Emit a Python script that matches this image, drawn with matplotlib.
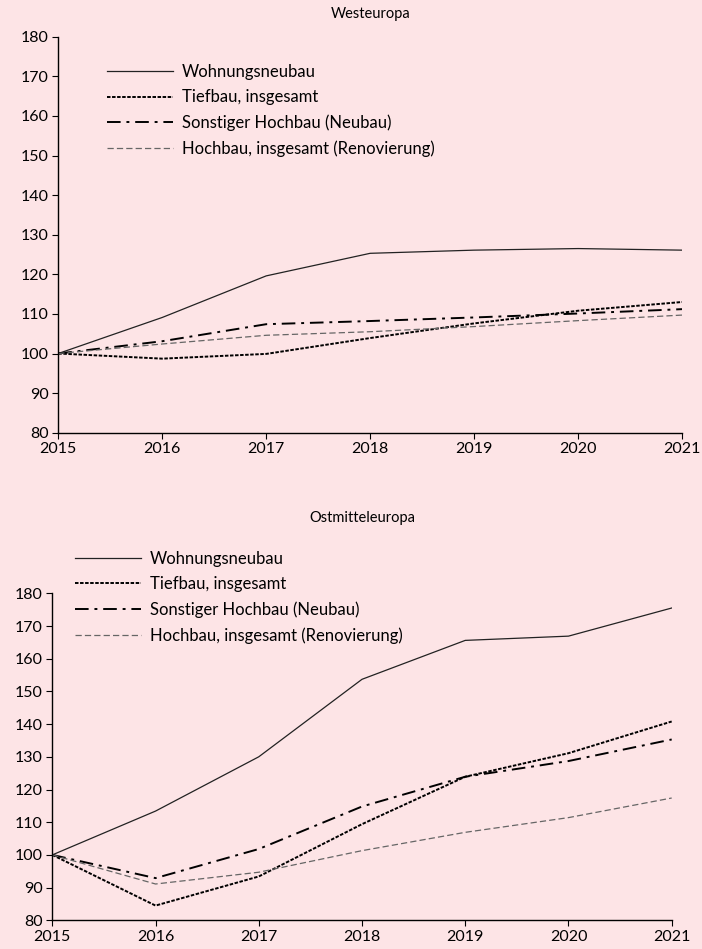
import matplotlib
matplotlib.use("Agg")
import matplotlib.pyplot as plt

plt.rcParams["font.family"] = ["Lato", "DejaVu Sans"]

years = [2015, 2016, 2017, 2018, 2019, 2020, 2021]
series_names = [
    "Wohnungsneubau",
    "Tiefbau, insgesamt",
    "Sonstiger Hochbau (Neubau)",
    "Hochbau, insgesamt (Renovierung)",
]

# Westeuropa (2015 = 100)
west_wohnungsneubau = [100, 109.1, 119.6, 125.3, 126.1, 126.5, 126.1]
west_tiefbau = [100, 98.7, 99.9, 103.9, 107.6, 110.8, 113.0]
west_sonstiger = [100, 103.1, 107.4, 108.2, 109.1, 110.1, 111.2]
west_renovierung = [100, 102.4, 104.6, 105.5, 106.8, 108.3, 109.7]

# Ostmitteleuropa (2015 = 100)
ost_wohnungsneubau = [100, 113.4, 130.0, 153.7, 165.6, 166.9, 175.5]
ost_tiefbau = [100, 84.5, 93.4, 109.4, 123.9, 131.1, 140.8]
ost_sonstiger = [100, 92.9, 101.8, 114.8, 123.9, 128.7, 135.3]
ost_renovierung = [100, 91.1, 94.7, 101.3, 106.9, 111.4, 117.4]

bg = "#fde4e6"
styles = [
    dict(color="#222222", linewidth=0.9, linestyle="-"),
    dict(color="black", linewidth=1.4, linestyle=(0, (1.8, 0.8))),
    dict(color="black", linewidth=1.4, linestyle=(0, (7, 3, 1.5, 3))),
    dict(color="#666666", linewidth=0.9, linestyle=(0, (5, 2.5))),
]

W, H = 702, 949
fig = plt.figure(figsize=(W / 100, H / 100), dpi=100, facecolor=bg)


def draw_panel(rect, title, title_y, series, legend_xy):
    ax = fig.add_axes(rect, facecolor=bg)
    for name, vals, st in zip(series_names, series, styles):
        ax.plot(years, vals, label=name, **st)
    ax.set_xlim(2015, 2021)
    ax.set_ylim(80, 180)
    ax.set_xticks(years)
    ax.set_yticks(range(80, 181, 10))
    ax.spines["top"].set_visible(False)
    ax.spines["right"].set_visible(False)
    for s in ("left", "bottom"):
        ax.spines[s].set_linewidth(1.0)
    ax.tick_params(direction="out", length=4, width=0.8, labelsize=11.5, pad=3,
                   colors="black")
    fig.text(rect[0] + rect[2] / 2, 1 - title_y / H, title, ha="center",
             va="center", fontsize=10.5)
    ax.legend(loc="upper left", bbox_to_anchor=(legend_xy[0] / W, 1 - legend_xy[1] / H),
              bbox_transform=fig.transFigure, frameon=False, fontsize=12,
              handlelength=3.95, handletextpad=0.54, labelspacing=0.56,
              borderpad=0, borderaxespad=0)
    return ax


draw_panel([58.3 / W, 1 - 432.7 / H, (682 - 58.3) / W, (432.7 - 36.7) / H],
           "Westeuropa", 14,
           [west_wohnungsneubau, west_tiefbau, west_sonstiger, west_renovierung],
           (107, 64))
draw_panel([52.3 / W, 1 - 920.3 / H, (671.7 - 52.3) / W, (920.3 - 593.3) / H],
           "Ostmitteleuropa", 518,
           [ost_wohnungsneubau, ost_tiefbau, ost_sonstiger, ost_renovierung],
           (75, 551))

fig.savefig("out.png", dpi=100, facecolor=bg)
